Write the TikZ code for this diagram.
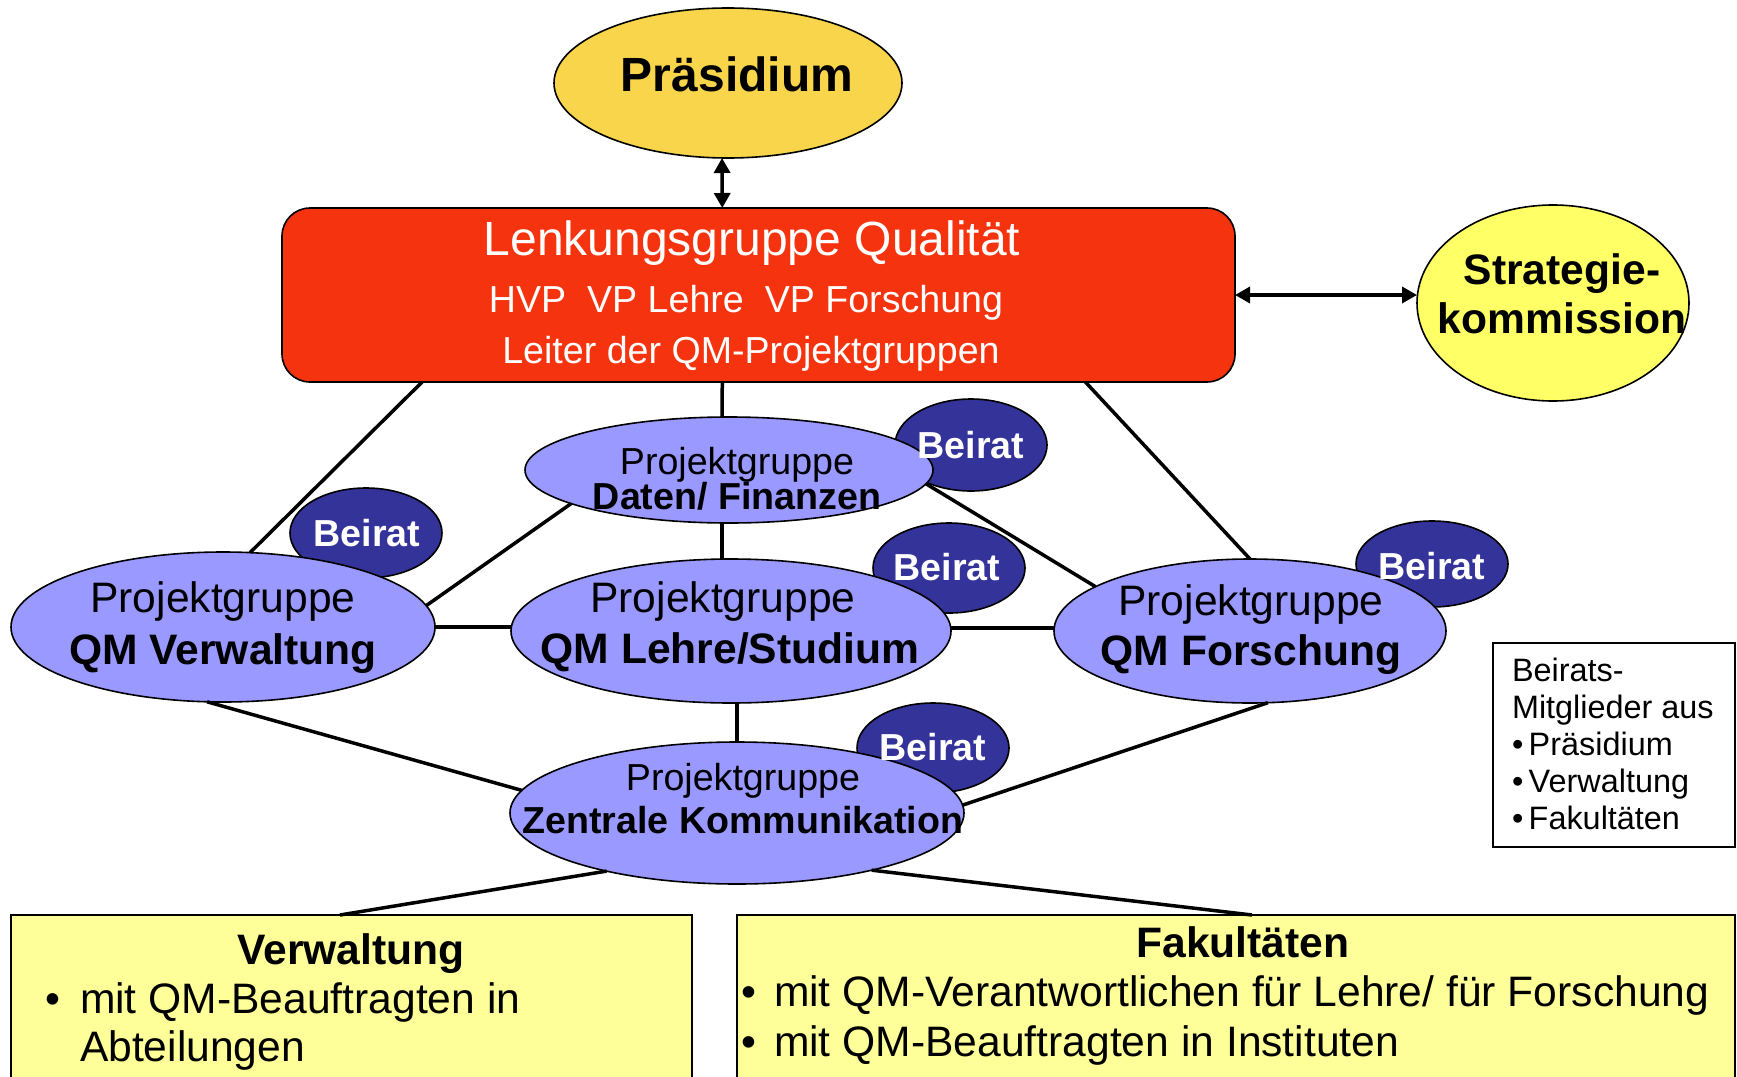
\documentclass[tikz,border=0pt]{standalone}
\usepackage{fontspec}
\setmainfont{Liberation Sans}
\usetikzlibrary{shapes.geometric,arrows.meta,calc}
\definecolor{praesgold}{HTML}{F8D54A}
\definecolor{lenkred}{HTML}{F5330F}
\definecolor{stratyellow}{HTML}{FFFF66}
\definecolor{projblue}{HTML}{9999FF}
\definecolor{beiratblue}{HTML}{333399}
\definecolor{boxyellow}{HTML}{FFFF99}
\newcommand\fsz[2]{\fontsize{#1pt}{#2pt}\selectfont}
\begin{document}
\begin{tikzpicture}[x=1pt,y=-1pt,
  every node/.style={inner sep=0pt, outer sep=0pt},
  conn/.style={line width=3.5pt},
  dbl/.style={line width=3.5pt, {Triangle[width=16pt,length=15pt]}-{Triangle[width=16pt,length=15pt]}},
  ell/.style={ellipse, draw=black, line width=1.6pt},
  proj/.style={ell, fill=projblue},
  beirat/.style={ell, fill=beiratblue, minimum width=152pt},
  txt/.style={anchor=base},
  big/.style={font=\fsz{42.6}{50}},
  bigb/.style={font=\fsz{42.6}{50}\bfseries},
  small/.style={font=\fsz{37.6}{44}},
  smallb/.style={font=\fsz{37.6}{44}\bfseries},
  btxt/.style={anchor=base, text=white, smallb},
  ybox/.style={draw=black, line width=1.6pt, fill=boxyellow, anchor=north west, minimum height=200pt}
]
\useasboundingbox (0,0) rectangle (1737,1076);
\clip (0,0) rectangle (1737,1076);

% main nodes
\node[ell, fill=praesgold, minimum width=348pt, minimum height=150pt] (praes) at (728,83) {};
\node[draw=black, line width=1.6pt, fill=lenkred, rounded corners=28pt, minimum width=953pt, minimum height=174pt] (lenk) at (758.5,295) {};
\node[ell, fill=stratyellow, minimum width=272pt, minimum height=196pt] (strat) at (1553,303) {};

% Beirat ellipses
\node[beirat, minimum height=92pt] (bd) at (971,445) {};
\node[beirat, minimum height=90pt] (bv) at (366,533) {};
\node[beirat, minimum height=90pt] (bl) at (949,568) {};
\node[beirat, minimum height=86pt] (bf) at (1432,564) {};
\node[beirat, minimum height=90pt] (bz) at (933,748) {};

% project groups
\node[proj, minimum width=408pt, minimum height=106pt] (daten) at (729,470) {};
\node[proj, minimum width=424pt, minimum height=150pt] (verw) at (223,627) {};
\node[proj, minimum width=440pt, minimum height=144pt] (lehre) at (731,631) {};
\node[proj, minimum width=392pt, minimum height=144pt] (forsch) at (1250,631) {};
\node[proj, minimum width=454pt, minimum height=142pt] (zent) at (737,813) {};

% bottom boxes and legend
\node[ybox, minimum width=681pt] (vbox) at (11,915) {};
\node[ybox, minimum width=998pt] (fbox) at (737,915) {};
\node[draw=black, line width=1.6pt, fill=white, minimum width=242pt, minimum height=204pt] (leg) at (1614,745) {};

% connectors
\draw[dbl] ($(praes.south)+(-6,0)$) -- ($(lenk.north west)!0.462!(lenk.north east)$);
\draw[dbl] (lenk.east) -- (strat.west |- lenk.east);
\draw[conn] ($(lenk.south west)!0.147!(lenk.south east)$) -- (verw.70);
\draw[conn] ($(lenk.south west)!0.462!(lenk.south east)$) -- ($(daten.north)+(-7,0)$);
\draw[conn] ($(lenk.south west)!0.843!(lenk.south east)$) -- (forsch.north);
\draw[conn] (daten.192) -- (verw.6);
\draw[conn] ($(daten.south)+(-7,0)$) -- ($(lehre.north)+(-9,0)$);
\draw[conn] (daten.-4) -- (forsch.164);
\draw[conn] (verw.east) -- (verw.east -| lehre.west);
\draw[conn] ($(lehre.east)+(0,-3)$) -- ($(forsch.west)+(0,-3)$);
\draw[conn] ($(lehre.south)+(6,0)$) -- (zent.north);
\draw[conn] (verw.258) -- (zent.174);
\draw[conn] (forsch.284) -- (zent.2);
\draw[conn] (zent.204) -- ($(vbox.north west)!0.483!(vbox.north east)$);
\draw[conn] (zent.337) -- ($(fbox.north west)!0.516!(fbox.north east)$);

% texts
\node[txt, font=\fsz{48}{56}\bfseries] (praesT) at (737,91) {Präsidium};
\node[txt, text=white, font=\fsz{48}{56}] (lenkT1) at (752,255) {Lenkungsgruppe Qualität};
\node[txt, text=white, small] (lenkT2) at (746,312) {HVP\ \ VP Lehre\ \ VP Forschung};
\node[txt, text=white, small] (lenkT3) at (751,363) {Leiter der QM-Projektgruppen};
\node[txt, bigb] (stratT1) at (1562,284) {Strategie-};
\node[txt, bigb] (stratT2) at (1562,333) {kommission};

\node[btxt] (bdT) at (971,458) {Beirat};
\node[btxt] (bvT) at (367,546) {Beirat};
\node[btxt] (blT) at (947,580) {Beirat};
\node[btxt] (bfT) at (1432,579) {Beirat};
\node[btxt] (bzT) at (933,760) {Beirat};

\node[txt, small] (datenT1) at (737,474) {Projektgruppe};
\node[txt, smallb] (datenT2) at (737,509) {Daten/ Finanzen};
\node[txt, big] (verwT1) at (223,612) {Projektgruppe};
\node[txt, bigb] (verwT2) at (223,664) {QM Verwaltung};
\node[txt, big] (lehreT1) at (723,612) {Projektgruppe};
\node[txt, bigb] (lehreT2) at (730,663) {QM Lehre/Studium};
\node[txt, big] (forschT1) at (1251,615) {Projektgruppe};
\node[txt, bigb] (forschT2) at (1251,665) {QM Forschung};
\node[txt, small] (zentT1) at (743,790) {Projektgruppe};
\node[txt, smallb] (zentT2) at (743,833) {Zentrale Kommunikation};

\node[anchor=north west, align=left, font=\fsz{32.4}{37}] (legT) at (1512,658)
  {Beirats-\\Mitglieder aus\\•\,Präsidium\\•\,Verwaltung\\•\,Fakultäten};

\node[txt, bigb] (vboxT) at (351,964) {Verwaltung};
\node[anchor=base west, big] (vb1) at (45,1013) {•};
\node[anchor=base west, big] (vboxI1) at (80,1013) {mit QM-Beauftragten in};
\node[anchor=base west, big] (vboxI2) at (80,1061) {Abteilungen};

\node[txt, bigb] (fboxT) at (1243,957) {Fakultäten};
\node[anchor=base west, big] (fb1) at (741,1006) {•};
\node[anchor=base west, big] (fboxI1) at (774,1006) {mit QM-Verantwortlichen für Lehre/ für Forschung};
\node[anchor=base west, big] (fb2) at (741,1056) {•};
\node[anchor=base west, big] (fboxI2) at (774,1056) {mit QM-Beauftragten in Instituten};
\end{tikzpicture}
\end{document}
